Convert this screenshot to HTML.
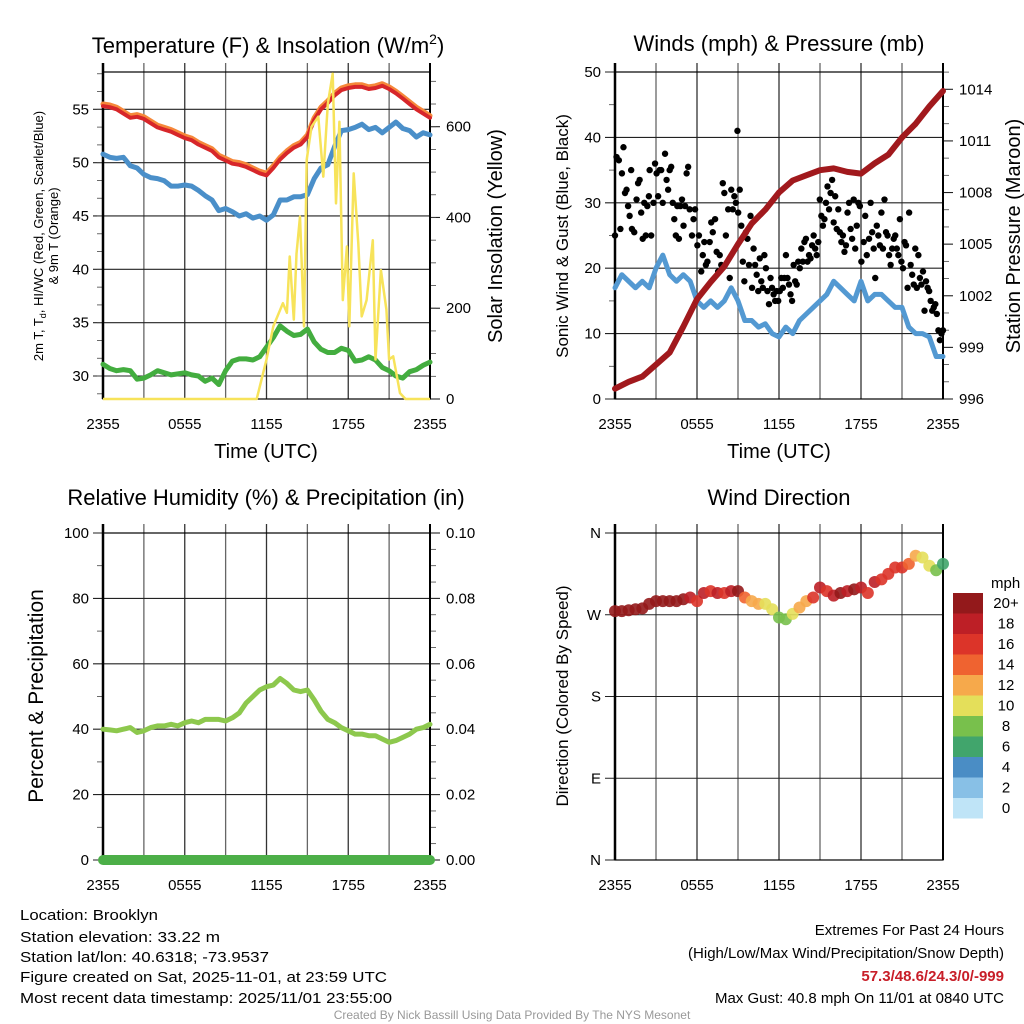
<!DOCTYPE html>
<html><head><meta charset="utf-8"><style>
html,body{margin:0;padding:0;background:#fff;}
svg{display:block;font-family:"Liberation Sans",sans-serif;}
</style></head><body>
<svg id="fig" width="1024" height="1024" viewBox="0 0 1024 1024" xmlns="http://www.w3.org/2000/svg">
<g font-size="22" text-anchor="middle" fill="#000">
<text x="268" y="53">Temperature (F) &amp; Insolation (W/m<tspan font-size="14" dy="-9">2</tspan><tspan dy="9">)</tspan></text>
<text x="779" y="51">Winds (mph) &amp; Pressure (mb)</text>
<text x="266" y="505">Relative Humidity (%) &amp; Precipitation (in)</text>
<text x="779" y="505">Wind Direction</text>
</g>
<g fill="#000" text-anchor="middle">
<text font-size="13" transform="translate(43,236) rotate(-90)">2m T, T<tspan font-size="9" dy="3">d</tspan><tspan dy="-3">, HI/WC (Red, Green, Scarlet/Blue)</tspan></text>
<text font-size="13" transform="translate(58,236) rotate(-90)">&amp; 9m T (Orange)</text>
<text font-size="20" transform="translate(502,236) rotate(-90)">Solar Insolation (Yellow)</text>
<text font-size="20" x="266" y="458">Time (UTC)</text>
<text font-size="17" transform="translate(568,236) rotate(-90)">Sonic Wind &amp; Gust (Blue, Black)</text>
<text font-size="20" transform="translate(1020,236) rotate(-90)">Station Pressure (Maroon)</text>
<text font-size="20" x="779" y="458">Time (UTC)</text>
<text font-size="21" transform="translate(43,696) rotate(-90)">Percent &amp; Precipitation</text>
<text font-size="17" transform="translate(568,696) rotate(-90)">Direction (Colored By Speed)</text>
</g>
<g id="plots"></g>
<g font-size="15" fill="#000">
<text x="20" y="920" textLength="138" lengthAdjust="spacingAndGlyphs">Location: Brooklyn</text>
<text x="20" y="942" textLength="200" lengthAdjust="spacingAndGlyphs">Station elevation: 33.22 m</text>
<text x="20" y="962" textLength="249" lengthAdjust="spacingAndGlyphs">Station lat/lon: 40.6318; -73.9537</text>
<text x="20" y="982" textLength="367" lengthAdjust="spacingAndGlyphs">Figure created on Sat, 2025-11-01, at 23:59 UTC</text>
<text x="20" y="1003" textLength="372" lengthAdjust="spacingAndGlyphs">Most recent data timestamp: 2025/11/01 23:55:00</text>
</g>
<g font-size="15" fill="#000" text-anchor="end">
<text x="1004" y="935">Extremes For Past 24 Hours</text>
<text x="1004" y="958">(High/Low/Max Wind/Precipitation/Snow Depth)</text>
<text x="1004" y="981" fill="#c81e28" font-weight="bold">57.3/48.6/24.3/0/-999</text>
<text x="1004" y="1003">Max Gust: 40.8 mph On 11/01 at 0840 UTC</text>
</g>
<text x="512" y="1019" font-size="12" fill="#999" text-anchor="middle">Created By Nick Bassill Using Data Provided By The NYS Mesonet</text>
</svg>
<script>
const NS="http://www.w3.org/2000/svg";
const timeLabels=["2355","0555","1155","1755","2355"];
// Temperature panel data (every 30 min, 49 points)
const temp2m=[55.3,55.2,55,54.6,54.2,54.3,54.1,53.7,53.3,53.1,52.9,52.6,52.3,52.1,51.7,51.4,51.1,50.5,50.2,49.9,49.8,49.6,49.3,49.0,48.8,49.5,50.3,50.9,51.4,51.7,52.4,54,55,55.6,56.3,56.8,57.0,57.1,57.1,56.9,57.0,57.2,56.9,56.5,56,55.5,55.0,54.6,54.2];
const temp9m=[55.5,55.4,55.2,54.8,54.4,54.5,54.3,53.9,53.5,53.3,53.1,52.8,52.5,52.3,51.9,51.6,51.3,50.7,50.4,50.1,50.0,49.8,49.5,49.2,49.0,49.7,50.5,51.1,51.6,51.9,52.6,54.2,55.2,55.8,56.5,57.0,57.2,57.3,57.3,57.1,57.2,57.4,57.1,56.7,56.2,55.7,55.2,54.8,54.4];
const tempBlue=[50.8,50.5,50.4,50.5,49.7,49.5,48.9,48.6,48.5,48.3,47.8,47.8,47.9,47.8,47.4,46.9,46.5,45.5,45.7,45.4,45,45.2,44.8,45,44.6,45.1,46.5,46.5,46.8,46.8,47,48.5,49.5,49.8,51.5,53.0,53.1,53.3,53.6,53.1,53.3,52.8,53.3,53.8,53.2,53,52.4,52.8,52.6];
const dewpoint=[31.1,30.7,30.5,30.6,30.5,29.7,29.8,30.1,30.5,30.3,30.1,30.2,30.3,30.1,30,29.5,29.8,29.2,30.5,31.4,31.6,31.6,31.5,31.8,32.7,33.6,34.7,34.2,33.8,33.9,34.4,33.2,32.5,32.2,32.2,32.6,32.4,31.4,31.5,31.8,31.5,30.8,30.5,30.0,29.8,30.4,30.6,31.0,31.3];
const insolHours=[0,11.28,12.0,12.5,13.2,13.5,13.7,14.0,14.2,14.46,14.75,14.95,15.3,15.8,16.17,16.5,16.86,17.1,17.35,17.6,17.9,18.08,18.4,18.74,18.99,19.35,19.8,20.0,20.4,20.8,21.0,21.3,21.8,22.2,24];
const insolVals=[0,0,87,160,211,190,314,175,320,402,160,527,600,622,490,650,717,431,611,218,336,160,497,343,182,218,350,87,284,197,87,94,13,0,0];
// Wind panel data
const windSpeed=[17,19,18,17,18,17,20,22,19,18,19,18,15,14,15,14,15,17,15,12,12,11,11.5,10,9.5,11,10,12,13,14,15,16,18,17,16,15,18,15,16,16,15,14,14,11,10,10,9.5,6.5,6.5];
const pressure=[996.6,997.0,997.3,998.0,998.7,1000.2,1001.8,1002.8,1003.7,1005,1006.2,1007,1008,1008.7,1009,1009.3,1009.4,1009.2,1009.1,1009.7,1010.2,1011.2,1012,1013,1013.9];
// gust sample positions (sample number, 0..42.6 spans the full day)
const gustIdx=[0,0.2,0.5,0.7,0.9,1.1,1.3,1.5,1.7,1.9,2.1,2.2,2.5,2.8,3,3.2,3.4,3.6,3.8,4,4.2,4.4,4.5,4.7,5,5.2,5.4,5.6,5.8,6,6.2,6.5,6.7,6.9,7.1,7.3,7.5,7.7,7.9,8.1,8.3,8.5,8.7,8.9,9.1,9.3,9.5,9.7,10,10.2,10.4,10.7,10.9,11.2,11.4,11.6,11.8,12,12.3,12.5,12.7,13,13.2,13.4,13.6,13.8,14,14.2,14.4,14.7,14.9,15.1,15.3,15.5,15.7,15.9,16,16.2,16.4,16.6,16.8,17,17.2,17.4,17.6,17.8,18,18.2,18.4,18.6,18.8,19,19.2,19.4,19.6,19.8,20,20.2,20.4,20.6,20.8,21,21.2,21.4,21.6,21.8,22,22.2,22.4,22.6,22.8,23,23.2,23.4,23.6,23.8,24,24.2,24.4,24.6,24.8,25,25.2,25.4,25.6,25.8,26,26.2,26.4,26.6,26.8,27,27.2,27.4,27.6,27.8,28,28.2,28.4,28.6,28.8,29,29.2,29.4,29.6,29.8,30,30.2,30.4,30.6,30.8,31,31.2,31.4,31.6,31.8,32,32.3,32.5,32.7,33,33.2,33.4,33.6,33.8,34,34.2,34.4,34.6,34.8,35,35.2,35.4,35.6,35.8,36,36.2,36.4,36.6,36.8,37,37.2,37.4,37.6,37.8,38,38.2,38.4,38.6,38.8,39,39.2,39.4,39.6,39.8,40,40.2,40.4,40.6,40.8,41,41.2,41.4,41.6,41.8,42,42.2,42.4,42.6];
const gustVals=[25,37,36.5,26,34.5,38.5,31.5,32,29.5,28,35,26,25.5,30.5,33,33.5,28.5,24.5,30,25,29.5,31,35,25,30,36,34.5,31,35,35,30,37.5,33.5,32,35,35.5,30,27.5,25,29.5,24.5,29.5,30.5,26.5,29.5,34.5,35.5,29,25,27.5,29,23.5,25,19.5,22,24,20.5,21,24,27,25.5,27.5,22.5,19.5,22,20.5,33,31.5,25,29,18.5,32,29,31,30,41,28.5,32,26.5,21,18,25.5,24.5,20.5,28,17,23,20.5,19,16.5,21.5,18,17,22,20,16.5,14.5,18.5,17,16,15,16.5,15,16.5,18.5,17,18.5,22,18.5,17.5,16,15,20.5,18,17.5,21,20,23,21,24,24.5,21,22,21.5,23.5,25,23,22,24,30.5,28,26.5,27.5,30,32.5,29,31.5,33.5,27,31,26,29,25.5,24,25,22.5,23.5,28.5,30,26,24.5,30.5,23,26.5,30,29.5,21,24,28,22,24.5,30,25.5,23,18.5,26.5,25,23.5,28.5,23,30.5,25.5,25,22,20.5,23,24.5,25,23,22,27.5,21,20,24,23.5,17,28.5,20.5,19,17.5,23,17,22,18.5,17.5,19.5,13.5,18,17,16.5,15,13.5,14,14.5,13,10.5,9,10,10.5];
// Humidity panel data
const relHum=[40,39.8,39.5,40,40.5,39,39.5,40.5,41,41,41.5,41,42,42.5,42,43,43,43,42.5,43.5,45,48,50,52,53,53.5,55.5,54,52,51.5,52,49,45.5,43,42,40.5,39.5,38.5,38.5,38,38,37,36,36.5,37.5,38.5,40,40.5,41.5];
const precip=[0,0,0,0,0,0,0,0,0,0,0,0,0,0,0,0,0,0,0,0,0,0,0,0,0,0,0,0,0,0,0,0,0,0,0,0,0,0,0,0,0,0,0,0,0,0,0,0,0];
// Wind direction (degrees) and speed used for coloring
const windDir=[274,274,275,276,277,282,285,285,285,285,287,289,285,294,296,294,294,296,296,289,285,282,282,276,267,265,271,278,285,289,300,296,291,294,296,298,300,294,306,309,315,322,322,326,335,333,324,319,326];
const dirSpeed=[21,21,20,21,20,21,20,21,21,20,21,18,17,18,17,18,17,18,20,14,12,12,11,10,8,9,10,12,13,17,18,17,18,20,18,21,18,17,18,17,17,16,17,14,12,10,10,9,6];
const speedBins=["20+","18","16","14","12","10","8","6","4","2","0"];
const binColors=["#93191b","#bd1f26","#dc3429","#ef6330","#f6a94b","#e4df5a","#78c04c","#41a56c","#4a8dc5","#88c0e6","#bfe4f7"];

const root=document.getElementById('plots');
function el(tag,attrs,parent){const e=document.createElementNS(NS,tag);for(const k in attrs)e.setAttribute(k,attrs[k]);(parent||root).appendChild(e);return e;}
function lin(d0,d1,r0,r1){return v=>r0+(v-d0)*(r1-r0)/(d1-d0);}

function frame(g,L,R,T,B,yTicks,yScale,yFmt,rTicks,rScale,rFmt,yMinor,rMinor){
  for(let k=0;k<=8;k++){const x=L+(R-L)*k/8;
    const ln=el('line',{x1:x,x2:x,y1:T-9,y2:B,stroke:k%2?'#666':'#333','stroke-width':1.3},g);
    
  }
  yTicks.forEach(v=>{const y=yScale(v);
    const ln=el('line',{x1:L-10,x2:R,y1:y,y2:y,stroke:'#222','stroke-width':1.1},g);
    
    const t=el('text',{x:L-14,y:y+5,'font-size':15,'text-anchor':'end'},g);t.textContent=yFmt(v);
    
  });
  (yMinor||[]).forEach(v=>{const y=yScale(v);el('line',{x1:L-6,x2:L,y1:y,y2:y,stroke:'#444','stroke-width':0.8},g);});
  if(rTicks){
    rTicks.forEach(v=>{const y=rScale(v);el('line',{x1:R,x2:R+10,y1:y,y2:y,stroke:'#222','stroke-width':1.1},g);
      const t=el('text',{x:R+16,y:y+5,'font-size':15},g);t.textContent=rFmt(v);
      });
    (rMinor||[]).forEach(v=>{const y=rScale(v);el('line',{x1:R,x2:R+6,y1:y,y2:y,stroke:'#444','stroke-width':0.8},g);});
  }
  for(let k=0;k<5;k++){const x=L+(R-L)*k/4;
    const t=el('text',{x:x,y:B+30,'font-size':15,'text-anchor':'middle'},g);t.textContent=timeLabels[k];
    }
  el('rect',{x:L,y:T,width:R-L,height:B-T,fill:'none',stroke:'#000','stroke-width':1.2},g);
  el('line',{x1:L,x2:L,y1:T-9,y2:B,stroke:'#000','stroke-width':2.5},g);
  el('line',{x1:R,x2:R,y1:T-9,y2:B,stroke:'#000','stroke-width':2},g);
}
function pathFrom(xs,ys){return xs.map((x,i)=>(i?'L':'M')+x.toFixed(1)+' '+ys[i].toFixed(1)).join(' ');}
function seriesPath(g,vals,xS,yS,color,w,name){
  const p=el('path',{d:pathFrom(vals.map((v,i)=>xS(i*24/(vals.length-1))),vals.map(yS)),fill:'none',stroke:color,'stroke-width':w,'stroke-linejoin':'round','stroke-linecap':'round'},g);
  return p;
}

// ---- Panel 1: Temperature
{
 const g=el('g',{});
 const L=103,R=430,T=72,B=399;
 const x=lin(0,24,L,R), y=lin(30,55,376,109.3), yr=lin(0,600,399,126.7);
 const minor=[];for(let v=28.33;v<58.5;v+=1.6667)minor.push(v);
 const rminor=[];for(let v=50;v<=700;v+=50)rminor.push(v);
 frame(g,L,R,T,B,[30,35,40,45,50,55],y,v=>v,[0,200,400,600],yr,v=>v,minor,rminor);
 seriesPath(g,dewpoint,x,y,'#43ad3f',5,'dewpoint-line');
 seriesPath(g,tempBlue,x,y,'#4a8fc9',5,'heat-index-wind-chill-line');
 seriesPath(g,temp9m,x,y,'#f6883a',5,'temp-9m-line');
 seriesPath(g,temp2m,x,y,'#d7262a',4,'temp-2m-line');
 const ip=el('path',{d:pathFrom(insolHours.map(x),insolVals.map(yr)),fill:'none',stroke:'#f7e35a','stroke-width':2.5,'stroke-linejoin':'round'},g);
 
}
// ---- Panel 2: Winds
{
 const g=el('g',{});
 const L=615,R=943,T=72,B=399;
 const x=lin(0,24,L,R), y=lin(0,50,399,72), yr=lin(996,1014,399,89.3), xg=lin(0,42.6,L,R);
 const minor=[];for(let v=0;v<=50;v+=5)if(v%10)minor.push(v);
 const rminor=[];for(let v=996;v<=1015;v+=1)if((v-996)%3)rminor.push(v);
 frame(g,L,R,T,B,[0,10,20,30,40,50],y,v=>v,[996,999,1002,1005,1008,1011,1014],yr,v=>v,minor,rminor);
 seriesPath(g,windSpeed,x,y,'#5399d2',5,'sonic-wind-line');
 gustIdx.forEach((gi,i)=>{const c=el('circle',{cx:xg(gi),cy:y(gustVals[i]),r:3.2,fill:'#000'},g);
   });
 seriesPath(g,pressure,x,yr,'#a1191d',6,'station-pressure-line');
}
// ---- Panel 3: Humidity
{
 const g=el('g',{});
 const L=103,R=430,T=533,B=860;
 const x=lin(0,24,L,R), y=lin(0,100,860,533), yr=lin(0,0.1,860,533);
 const minor=[];for(let v=10;v<100;v+=20)minor.push(v);
 const rminor=[];for(let v=0.005;v<0.1;v+=0.005)if(Math.round(v*1000)%20)rminor.push(v);
 frame(g,L,R,T,B,[0,20,40,60,80,100],y,v=>v,[0,0.02,0.04,0.06,0.08,0.1],yr,v=>v.toFixed(2),minor,rminor);
 seriesPath(g,relHum,x,y,'#8dc84d',5,'relative-humidity-line');
 seriesPath(g,precip,x,yr,'#4caf48',10,'precipitation-line');
}
// ---- Panel 4: Wind Direction
{
 const g=el('g',{});
 const L=615,R=943,T=533,B=860;
 const x=lin(0,24,L,R), y=lin(0,360,860,533);
 const names={0:'N',90:'E',180:'S',270:'W',360:'N'};
 frame(g,L,R,T,B,[0,90,180,270,360],y,v=>names[v],null);
 windDir.forEach((d,i)=>{const s=dirSpeed[i];const b=Math.max(0,Math.min(10,10-Math.floor(s/2)));
   const c=el('circle',{cx:x(i*0.5),cy:y(d),r:6,fill:binColors[b],'fill-opacity':0.9},g);
   });
 const cb=el('g',{});
 const t=el('text',{x:991,y:588,'font-size':15},cb);t.textContent='mph';
 
 speedBins.forEach((lab,i)=>{const yy=593+i*20.5;
   const r=el('rect',{x:953,y:yy,width:30,height:20.5,fill:binColors[i]},cb);
   
   const tx=el('text',{x:1006,y:yy+15,'font-size':15,'text-anchor':'middle'},cb);tx.textContent=lab;
   });
}
</script>
</body></html>
